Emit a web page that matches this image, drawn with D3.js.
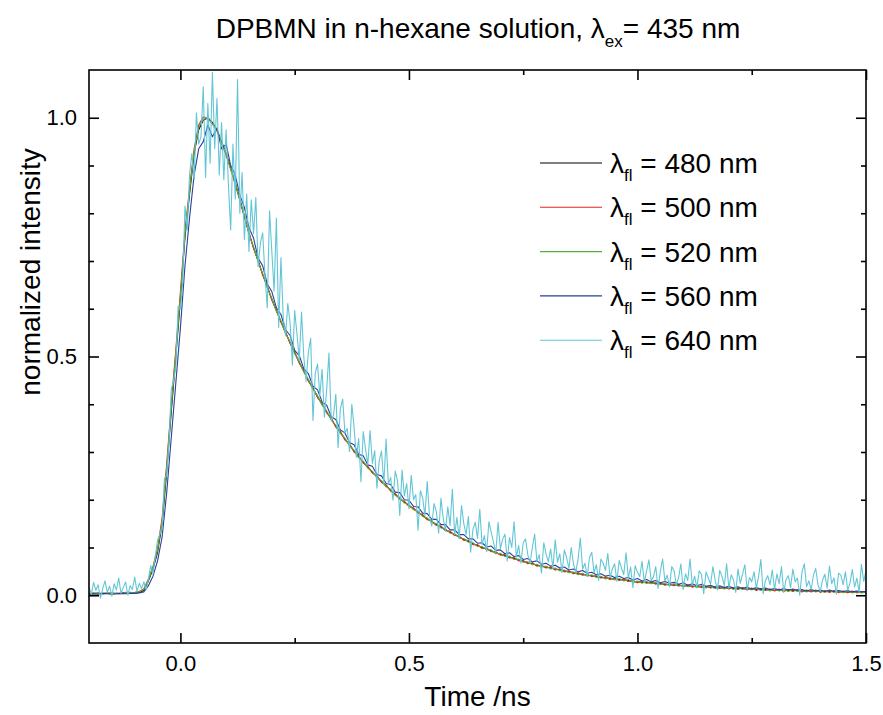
<!DOCTYPE html>
<html>
<head>
<meta charset="utf-8">
<script src="https://cdn.jsdelivr.net/npm/d3@7"></script>
<style>
  body { margin: 0; background: #fff; }
  text { font-family: "Liberation Sans", Arial, sans-serif; fill: #000; }
</style>
</head>
<body>
<div id="container"></div>
<script>
/* CONSTANTS AND GLOBALS */
const width = 883,
  height = 715,
  margin = {top: 70, right: 17, bottom: 72, left: 89};

// time sampling of the decays (ns)
const tStart = -0.2,
  stepCoarse = 0.01,   // 480, 500, 520, 560 nm traces
  stepFine = 0.005;    // 640 nm trace

const xMajor = [0, 0.5, 1.0, 1.5],
  xMinor = [0.25, 0.75, 1.25],
  yMajor = [0, 0.5, 1.0],
  yMinor = [0.1, 0.2, 0.3, 0.4, 0.6, 0.7, 0.8, 0.9];

const legendLabels = ["480", "500", "520", "560", "640"];
const colors = ["#000000", "#e8231c", "#5aae3a", "#27409c", "#63c6d6"];

/* DATA - normalized intensity */
const fl480 = [
  0.003, 0.004, 0.003, 0.004, 0.004, 0.003, 0.004, 0.004, 0.005, 0.005,
  0.005, 0.006, 0.010, 0.030, 0.055, 0.090, 0.150, 0.260, 0.385, 0.500,
  0.620, 0.750, 0.840, 0.925, 0.975, 0.995, 1.000, 0.990, 0.975, 0.950,
  0.925, 0.895, 0.863, 0.829, 0.794, 0.758, 0.728, 0.700, 0.672, 0.646,
  0.620, 0.596, 0.573, 0.550, 0.529, 0.508, 0.488, 0.469, 0.450, 0.433,
  0.416, 0.400, 0.384, 0.369, 0.354, 0.341, 0.327, 0.315, 0.302, 0.290,
  0.279, 0.268, 0.258, 0.248, 0.238, 0.229, 0.220, 0.211, 0.203, 0.195,
  0.188, 0.181, 0.174, 0.167, 0.160, 0.154, 0.148, 0.143, 0.137, 0.132,
  0.127, 0.122, 0.117, 0.113, 0.108, 0.104, 0.100, 0.097, 0.093, 0.089,
  0.086, 0.083, 0.080, 0.077, 0.074, 0.071, 0.068, 0.066, 0.063, 0.061,
  0.059, 0.057, 0.055, 0.053, 0.051, 0.049, 0.047, 0.045, 0.044, 0.042,
  0.041, 0.039, 0.038, 0.036, 0.035, 0.034, 0.033, 0.032, 0.031, 0.029,
  0.028, 0.027, 0.027, 0.026, 0.025, 0.024, 0.023, 0.022, 0.022, 0.021,
  0.020, 0.020, 0.019, 0.018, 0.018, 0.017, 0.017, 0.016, 0.016, 0.015,
  0.015, 0.014, 0.014, 0.014, 0.013, 0.013, 0.012, 0.012, 0.012, 0.011,
  0.011, 0.011, 0.010, 0.010, 0.010, 0.010, 0.009, 0.009, 0.009, 0.009,
  0.008, 0.008, 0.008, 0.008, 0.008, 0.007, 0.007, 0.007, 0.007, 0.007, 0.006
];

const fl500 = [
  0.004, 0.003, 0.005, 0.003, 0.004, 0.005, 0.003, 0.004, 0.006, 0.005,
  0.006, 0.008, 0.013, 0.034, 0.060, 0.098, 0.162, 0.275, 0.400, 0.515,
  0.635, 0.762, 0.852, 0.935, 0.985, 1.002, 0.998, 0.988, 0.972, 0.948,
  0.921, 0.893, 0.860, 0.828, 0.791, 0.760, 0.726, 0.702, 0.670, 0.648,
  0.618, 0.598, 0.571, 0.552, 0.527, 0.510, 0.486, 0.471, 0.448, 0.435,
  0.414, 0.402, 0.382, 0.371, 0.352, 0.343, 0.325, 0.317, 0.300, 0.292,
  0.277, 0.270, 0.256, 0.250, 0.236, 0.231, 0.218, 0.213, 0.201, 0.197,
  0.186, 0.183, 0.172, 0.169, 0.158, 0.156, 0.146, 0.145, 0.135, 0.134,
  0.125, 0.124, 0.115, 0.115, 0.106, 0.106, 0.098, 0.099, 0.091, 0.091,
  0.084, 0.085, 0.078, 0.079, 0.072, 0.073, 0.066, 0.068, 0.061, 0.063,
  0.057, 0.059, 0.053, 0.055, 0.049, 0.051, 0.045, 0.047, 0.042, 0.044,
  0.039, 0.041, 0.036, 0.038, 0.033, 0.036, 0.031, 0.034, 0.029, 0.031,
  0.026, 0.029, 0.025, 0.028, 0.023, 0.026, 0.021, 0.024, 0.020, 0.023,
  0.018, 0.022, 0.017, 0.020, 0.016, 0.019, 0.015, 0.018, 0.014, 0.017,
  0.013, 0.016, 0.012, 0.016, 0.011, 0.015, 0.010, 0.014, 0.010, 0.013,
  0.009, 0.013, 0.008, 0.012, 0.008, 0.012, 0.007, 0.011, 0.007, 0.011,
  0.006, 0.010, 0.006, 0.010, 0.005, 0.009, 0.005, 0.009, 0.005, 0.008, 0.005
];

const fl520 = [
  0.003, 0.005, 0.004, 0.003, 0.005, 0.004, 0.004, 0.003, 0.005, 0.006,
  0.005, 0.007, 0.012, 0.032, 0.058, 0.094, 0.156, 0.268, 0.392, 0.508,
  0.628, 0.756, 0.846, 0.930, 0.980, 0.998, 1.000, 0.986, 0.976, 0.946,
  0.926, 0.891, 0.865, 0.826, 0.796, 0.755, 0.730, 0.698, 0.674, 0.644,
  0.622, 0.594, 0.575, 0.548, 0.531, 0.506, 0.490, 0.467, 0.452, 0.431,
  0.418, 0.398, 0.386, 0.367, 0.356, 0.339, 0.329, 0.313, 0.304, 0.288,
  0.281, 0.266, 0.260, 0.246, 0.240, 0.227, 0.222, 0.209, 0.205, 0.193,
  0.190, 0.179, 0.176, 0.165, 0.162, 0.152, 0.150, 0.141, 0.139, 0.130,
  0.129, 0.120, 0.119, 0.111, 0.110, 0.102, 0.102, 0.095, 0.095, 0.087,
  0.088, 0.081, 0.082, 0.075, 0.076, 0.069, 0.070, 0.064, 0.065, 0.059,
  0.061, 0.055, 0.057, 0.051, 0.053, 0.047, 0.049, 0.043, 0.046, 0.040,
  0.043, 0.037, 0.040, 0.034, 0.037, 0.032, 0.035, 0.030, 0.033, 0.027,
  0.030, 0.025, 0.029, 0.024, 0.027, 0.022, 0.025, 0.020, 0.024, 0.019,
  0.022, 0.018, 0.021, 0.016, 0.020, 0.015, 0.019, 0.014, 0.018, 0.013,
  0.017, 0.012, 0.016, 0.012, 0.015, 0.011, 0.014, 0.010, 0.014, 0.009,
  0.013, 0.009, 0.012, 0.008, 0.012, 0.008, 0.011, 0.007, 0.011, 0.007,
  0.010, 0.006, 0.010, 0.006, 0.009, 0.005, 0.009, 0.005, 0.008, 0.005, 0.007
];

const fl560 = [
  0.002, 0.003, 0.002, 0.004, 0.003, 0.002, 0.003, 0.004, 0.003, 0.004,
  0.004, 0.005, 0.007, 0.020, 0.040, 0.072, 0.122, 0.215, 0.330, 0.445,
  0.560, 0.690, 0.790, 0.880, 0.935, 0.950, 0.985, 0.960, 0.978, 0.935,
  0.945, 0.900, 0.880, 0.838, 0.812, 0.770, 0.748, 0.706, 0.690, 0.652,
  0.636, 0.602, 0.588, 0.556, 0.544, 0.513, 0.502, 0.474, 0.464, 0.438,
  0.430, 0.405, 0.398, 0.374, 0.368, 0.346, 0.340, 0.320, 0.315, 0.295,
  0.292, 0.273, 0.270, 0.253, 0.250, 0.234, 0.232, 0.216, 0.215, 0.200,
  0.199, 0.186, 0.185, 0.172, 0.171, 0.159, 0.159, 0.148, 0.148, 0.137,
  0.137, 0.127, 0.127, 0.118, 0.118, 0.109, 0.110, 0.101, 0.103, 0.094,
  0.095, 0.087, 0.089, 0.081, 0.083, 0.075, 0.077, 0.070, 0.072, 0.065,
  0.067, 0.061, 0.063, 0.057, 0.059, 0.053, 0.055, 0.049, 0.052, 0.046,
  0.048, 0.043, 0.045, 0.040, 0.042, 0.037, 0.040, 0.035, 0.037, 0.032,
  0.035, 0.030, 0.033, 0.028, 0.031, 0.026, 0.029, 0.025, 0.027, 0.023,
  0.026, 0.021, 0.024, 0.020, 0.023, 0.019, 0.021, 0.017, 0.020, 0.016,
  0.019, 0.015, 0.018, 0.014, 0.017, 0.013, 0.016, 0.013, 0.015, 0.012,
  0.014, 0.011, 0.014, 0.011, 0.013, 0.010, 0.012, 0.009, 0.012, 0.009,
  0.011, 0.008, 0.011, 0.008, 0.010, 0.008, 0.010, 0.007, 0.009, 0.007, 0.008
];

const fl640 = [
  // -0.200 .. -0.085
  0.018, 0.002, 0.027, 0.010, 0.022, -0.006, 0.014, 0.030, 0.006, 0.019,
  -0.002, 0.024, 0.011, 0.036, 0.004, 0.016, 0.028, 0.000, 0.020, 0.012,
  0.038, 0.008, 0.025, 0.014,
  // -0.080 .. 0.040
  0.028, 0.012, 0.034, 0.062, 0.045, 0.082, 0.115, 0.128, 0.142, 0.245,
  0.250, 0.318, 0.432, 0.448, 0.478, 0.605, 0.600, 0.655, 0.815, 0.765,
  0.880, 0.925, 0.870, 1.010, 0.945,
  // 0.045 .. 0.150
  0.960, 1.065, 0.875, 1.030, 0.905, 1.095, 0.935, 1.040, 0.880, 0.990,
  0.870, 0.975, 0.860, 0.765, 0.945, 0.830, 1.080, 0.800, 0.885, 0.745,
  0.840, 0.720,
  // 0.155 .. 0.600
  0.828, 0.757, 0.833, 0.688, 0.738, 0.759, 0.670, 0.602, 0.805, 0.720,
  0.637, 0.790, 0.561, 0.707, 0.580, 0.544, 0.611, 0.570, 0.482, 0.596,
  0.547, 0.492, 0.593, 0.499, 0.448, 0.510, 0.538, 0.366, 0.465, 0.484,
  0.418, 0.473, 0.373, 0.431, 0.507, 0.365, 0.377, 0.421, 0.309, 0.391,
  0.411, 0.340, 0.349, 0.301, 0.400, 0.352, 0.289, 0.328, 0.238, 0.343,
  0.306, 0.273, 0.345, 0.276, 0.303, 0.224, 0.282, 0.302, 0.233, 0.327,
  0.232, 0.247, 0.199, 0.260, 0.240, 0.167, 0.262, 0.208, 0.234, 0.181,
  0.251, 0.200, 0.211, 0.136, 0.219, 0.204, 0.167, 0.238, 0.166, 0.145,
  0.192, 0.175, 0.130, 0.203, 0.161, 0.135, 0.185, 0.146, 0.222, 0.127,
  // 0.605 .. 1.500
  0.163, 0.119, 0.188, 0.150, 0.127, 0.165, 0.090, 0.138, 0.153, 0.119,
  0.180, 0.106, 0.125, 0.091, 0.154, 0.132, 0.111, 0.089, 0.153, 0.098,
  0.117, 0.128, 0.072, 0.121, 0.100, 0.154, 0.080, 0.104, 0.067, 0.110,
  0.118, 0.085, 0.067, 0.100, 0.128, 0.071, 0.085, 0.046, 0.110, 0.086,
  0.070, 0.097, 0.056, 0.116, 0.069, 0.087, 0.047, 0.095, 0.079, 0.056,
  0.100, 0.065, 0.049, 0.075, 0.120, 0.055, 0.067, 0.039, 0.079, 0.090,
  0.047, 0.064, 0.031, 0.076, 0.067, 0.052, 0.088, 0.037, 0.055, 0.066,
  0.029, 0.073, 0.057, 0.043, 0.089, 0.036, 0.059, 0.016, 0.062, 0.048,
  0.039, 0.071, 0.027, 0.051, 0.074, 0.030, 0.039, 0.060, 0.014, 0.050,
  0.076, 0.030, 0.042, 0.018, 0.060, 0.052, 0.022, 0.037, 0.066, 0.012,
  0.045, 0.031, 0.076, 0.021, 0.040, 0.016, 0.051, 0.044, 0.003, 0.049,
  0.036, 0.023, 0.060, 0.031, 0.011, 0.052, 0.039, 0.020, 0.066, 0.015,
  0.043, 0.033, 0.006, 0.055, 0.025, 0.045, 0.064, 0.011, 0.037, 0.028,
  0.049, 0.015, 0.039, 0.075, 0.003, 0.031, 0.041, 0.022, 0.053, 0.012,
  0.045, 0.024, 0.060, 0.006, 0.033, 0.041, 0.016, 0.055, 0.028, 0.036,
  0.000, 0.049, 0.066, 0.018, 0.030, 0.012, 0.042, 0.056, 0.022, 0.008,
  0.032, 0.044, 0.015, 0.061, 0.024, 0.036, 0.002, 0.046, 0.042, 0.022,
  0.049, 0.010, 0.026, 0.054, 0.017, 0.036, 0.007, 0.065, 0.029, 0.051
];

const seriesValues = [fl480, fl500, fl520, fl560, fl640];
const seriesSteps = [stepCoarse, stepCoarse, stepCoarse, stepCoarse, stepFine];

/* SVG */
const svg = d3.select("#container")
  .append("svg")
  .attr("width", width)
  .attr("height", height);

/* SCALES */
const xScale = d3.scaleLinear()
  .domain([-0.2, 1.5])
  .range([margin.left, width - margin.right]);

const yScale = d3.scaleLinear()
  .domain([-0.1, 1.1])
  .range([height - margin.bottom, margin.top]);

const plotW = width - margin.right - margin.left,
  plotH = height - margin.bottom - margin.top;

svg.append("clipPath")
  .attr("id", "plot-clip")
  .append("rect")
  .attr("x", margin.left)
  .attr("y", margin.top)
  .attr("width", plotW)
  .attr("height", plotH);

/* LINES */
const lines = svg.append("g").attr("clip-path", "url(#plot-clip)");
seriesValues.forEach((vals, k) => {
  const step = seriesSteps[k];
  const line = d3.line()
    .x((d, i) => xScale(tStart + i * step))
    .y(d => yScale(d));
  lines.append("path")
    .datum(vals)
    .attr("d", line)
    .attr("fill", "none")
    .attr("stroke", colors[k])
    .attr("stroke-width", 1.1)
    .attr("stroke-linejoin", "round");
});

/* AXES - ticks point inward, mirrored on top and right */
const tickFont = "22px";
const styleAxis = g => {
  g.select(".domain").remove();
  g.selectAll("line").attr("stroke", "#000").attr("stroke-width", 1.6);
  g.selectAll("text").style("font-size", tickFont).attr("font-family", null);
};

svg.append("g")
  .attr("transform", `translate(0, ${height - margin.bottom})`)
  .call(d3.axisBottom(xScale).tickValues(xMajor).tickSizeInner(-10).tickSizeOuter(0)
    .tickPadding(12).tickFormat(d3.format(".1f")))
  .call(styleAxis);
svg.append("g")
  .attr("transform", `translate(0, ${height - margin.bottom})`)
  .call(d3.axisBottom(xScale).tickValues(xMinor).tickSizeInner(-5).tickSizeOuter(0).tickFormat(""))
  .call(styleAxis);
svg.append("g")
  .attr("transform", `translate(0, ${margin.top})`)
  .call(d3.axisTop(xScale).tickValues(xMajor).tickSizeInner(-10).tickSizeOuter(0).tickFormat(""))
  .call(styleAxis);
svg.append("g")
  .attr("transform", `translate(0, ${margin.top})`)
  .call(d3.axisTop(xScale).tickValues(xMinor).tickSizeInner(-5).tickSizeOuter(0).tickFormat(""))
  .call(styleAxis);

svg.append("g")
  .attr("transform", `translate(${margin.left}, 0)`)
  .call(d3.axisLeft(yScale).tickValues(yMajor).tickSizeInner(-10).tickSizeOuter(0)
    .tickPadding(12).tickFormat(d3.format(".1f")))
  .call(styleAxis);
svg.append("g")
  .attr("transform", `translate(${margin.left}, 0)`)
  .call(d3.axisLeft(yScale).tickValues(yMinor).tickSizeInner(-5).tickSizeOuter(0).tickFormat(""))
  .call(styleAxis);
svg.append("g")
  .attr("transform", `translate(${width - margin.right}, 0)`)
  .call(d3.axisRight(yScale).tickValues(yMajor).tickSizeInner(-10).tickSizeOuter(0).tickFormat(""))
  .call(styleAxis);
svg.append("g")
  .attr("transform", `translate(${width - margin.right}, 0)`)
  .call(d3.axisRight(yScale).tickValues(yMinor).tickSizeInner(-5).tickSizeOuter(0).tickFormat(""))
  .call(styleAxis);

// frame
svg.append("rect")
  .attr("x", margin.left)
  .attr("y", margin.top)
  .attr("width", plotW)
  .attr("height", plotH)
  .attr("fill", "none")
  .attr("stroke", "#000")
  .attr("stroke-width", 1.6);

/* LABELS */
const title = svg.append("text")
  .attr("x", 478)
  .attr("y", 38)
  .attr("text-anchor", "middle")
  .style("font-size", "28px");
title.append("tspan").text("DPBMN in n-hexane solution, \u03bb");
title.append("tspan").attr("dy", 9).style("font-size", "17px").text("ex");
title.append("tspan").attr("dy", -9).text("= 435 nm");

svg.append("text")
  .attr("x", (margin.left + width - margin.right) / 2)
  .attr("y", 706)
  .attr("text-anchor", "middle")
  .style("font-size", "28px")
  .text("Time /ns");

svg.append("text")
  .attr("transform", "translate(40, 272) rotate(-90)")
  .attr("text-anchor", "middle")
  .style("font-size", "28px")
  .text("normalized intensity");

/* LEGEND */
const legendX = 540, legendY = 163, legendGap = 44.3;
legendLabels.forEach((lab, i) => {
  const yy = legendY + i * legendGap;
  svg.append("line")
    .attr("x1", legendX).attr("x2", legendX + 62)
    .attr("y1", yy).attr("y2", yy)
    .attr("stroke", colors[i])
    .attr("stroke-width", 1.1);
  const t = svg.append("text")
    .attr("x", legendX + 70)
    .attr("y", yy + 10)
    .style("font-size", "28px");
  t.append("tspan").text("\u03bb");
  t.append("tspan").attr("dy", 8).style("font-size", "17px").text("fl");
  t.append("tspan").attr("dy", -8).text(` = ${lab} nm`);
});
</script>
</body>
</html>
